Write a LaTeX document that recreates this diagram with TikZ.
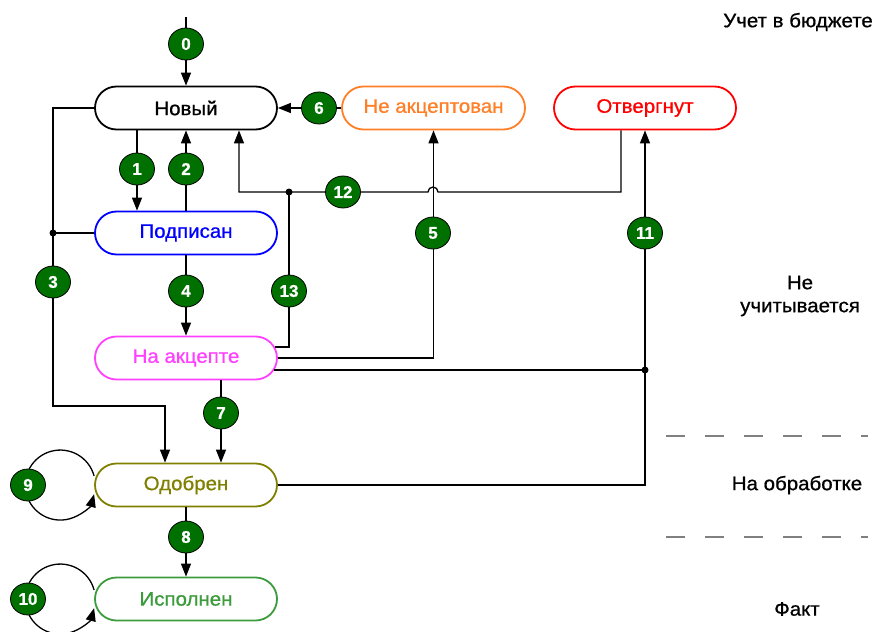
\documentclass[tikz,border=0pt]{standalone}
\usepackage{fontspec}
\usepackage{graphicx}
\setmainfont{Liberation Sans}[FakeBold=0.8]
\usetikzlibrary{arrows.meta,shapes.geometric}
\definecolor{lblgreen}{RGB}{0,112,0}
\definecolor{cmag}{RGB}{255,64,255}
\definecolor{corange}{RGB}{255,127,39}
\definecolor{colive}{RGB}{128,128,0}
\definecolor{cgreen}{RGB}{60,155,60}
\newcommand\hstr[1]{\scalebox{1.05}[1]{#1}}
\begin{document}
\begin{tikzpicture}[x=1pt,y=-1pt,
 st/.style={draw, rounded corners=21.5pt, minimum width=182pt, minimum height=43pt, line width=1.8pt, fill=white, inner sep=0pt, font=\fontsize{19.5}{22}\selectfont},
 lbl/.style={ellipse, draw=black, line width=0.8pt, fill=lblgreen, text=white, minimum width=35pt, minimum height=32pt, inner sep=0pt, font=\bfseries\fontsize{17}{18}\selectfont},
 arr/.style={line width=1.3pt, -{Triangle[length=13pt,width=10pt]}},
 ln/.style={line width=1.3pt},
 dot/.style={circle, fill=black, inner sep=0pt, minimum size=7pt},
 zone/.style={font=\fontsize{19.5}{23}\selectfont, align=center},
 sep/.style={draw=gray, line width=1.5pt, dash pattern=on 19pt off 20pt}
]
\useasboundingbox (0,0) rectangle (874,631);

% states
\node[st] (nov) at (186,108) {\hstr{Новый}};
\node[st, draw=blue, text=blue] (pod) at (186,233) {\hstr{Подписан}};
\node[st, draw=cmag, text=cmag] (nak) at (186,358) {\hstr{На акцепте}};
\node[st, draw=colive, text=colive] (odo) at (186,485) {\hstr{Одобрен}};
\node[st, draw=cgreen, text=cgreen] (isp) at (186,599) {\hstr{Исполнен}};
\node[st, draw=corange, text=corange, minimum width=183pt] (nea) at (433.5,108) {\hstr{Не акцептован}};
\node[st, draw=red, text=red, minimum width=182pt] (otv) at (645,108) {\hstr{Отвергнут}};

% helper coordinates
\coordinate (top) at (186,17);
\coordinate (j3) at (53,233);
\coordinate (c3) at (53,406);
\coordinate (j12) at (289,192);
\coordinate (k12) at (239,192);
\coordinate (b12) at (438,192);
\coordinate (j11) at (645,370);
\coordinate (n13) at (275,347);
\coordinate (n11) at (274,370);

% connectors
\draw[arr] (top) -- (nov.north);
\draw[arr] ([xshift=-49pt]nov.south) -- ([xshift=-49pt]pod.north);
\draw[arr] (pod.north) -- (nov.south);
\draw[arr] (nov.west) -| (c3) -| ([xshift=-21pt]odo.north);
\draw[ln] (pod.west) -- (j3);
\draw[arr] (pod.south) -- (nak.north);
\draw[arr] (nak.east) -| (nea.south);
\draw[arr] (nea.west) -- (nov.east);
\draw[arr] ([xshift=35pt]nak.south) -- ([xshift=35pt]odo.north);
\draw[arr] (odo.south) -- (isp.north);
\draw[arr] ([yshift=9pt]odo.west) arc[start angle=15,end angle=345,radius=35pt];
\draw[arr] ([yshift=9pt]isp.west) arc[start angle=15,end angle=345,radius=35pt];
\draw[arr] (odo.east) -| (otv.south);
\draw[ln] (n11) -- (j11);
\draw[arr] ([xshift=-24pt]otv.south) |- (b12) arc[start angle=0,end angle=180,radius=5pt] -- (k12) -- ([xshift=53pt]nov.south);
\draw[ln] (n13) -| (j12);

% junction dots
\node[dot] (d3) at (j3) {};
\node[dot] (d12) at (j12) {};
\node[dot] (d11) at (j11) {};

% labels
\node[lbl] (l0) at (186,44) {0};
\node[lbl] (l1) at (137,169) {1};
\node[lbl] (l2) at (186,169) {2};
\node[lbl] (l3) at (53,282) {3};
\node[lbl] (l4) at (186,291) {4};
\node[lbl] (l5) at (433,233) {5};
\node[lbl] (l6) at (319,108) {6};
\node[lbl] (l7) at (221,413) {7};
\node[lbl] (l8) at (186,537) {8};
\node[lbl] (l9) at (28,485) {9};
\node[lbl] (l10) at (28,599) {10};
\node[lbl] (l11) at (645,233) {11};
\node[lbl] (l12) at (343,192) {12};
\node[lbl] (l13) at (289,291) {13};

% zones
\node[zone] (z1) at (798,22) {\hstr{Учет в бюджете}};
\node[zone] (z2) at (800,296) {\hstr{Не}\\\hstr{учитывается}};
\node[zone] (z3) at (797,485) {\hstr{На обработке}};
\node[zone] (z4) at (797,609) {\hstr{Факт}};
\coordinate (s1a) at (666,436);
\coordinate (s1b) at (868,436);
\coordinate (s2a) at (666,537);
\coordinate (s2b) at (868,537);
\draw[sep] (s1a) -- (s1b);
\draw[sep] (s2a) -- (s2b);
\end{tikzpicture}
\end{document}
